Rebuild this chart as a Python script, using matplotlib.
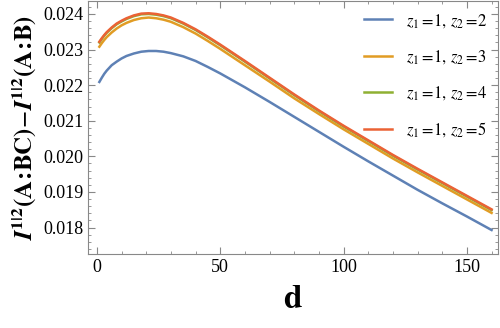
import numpy as np
import matplotlib
matplotlib.use("Agg")
import matplotlib.pyplot as plt
from matplotlib.ticker import MultipleLocator

plt.rcParams["mathtext.fontset"] = "stix"
plt.rcParams["font.family"] = ["Liberation Serif", "DejaVu Serif"]

d = [1, 2, 3, 4, 6, 8, 10, 12, 15, 18, 21, 24, 27, 30, 35, 40, 45, 50,
     60, 70, 80, 90, 100, 110, 120, 130, 140, 150, 160]

z2_2 = [0.02209, 0.02221, 0.02232, 0.02241, 0.02256, 0.02266, 0.02275, 0.02282, 0.02289, 0.02294,
        0.02296, 0.02296, 0.02294, 0.02290, 0.02281, 0.02268, 0.02251, 0.02233,
        0.02194, 0.02153, 0.02111, 0.02069, 0.02027, 0.01986, 0.01946, 0.01906, 0.01868, 0.01831, 0.01793]
z2_3 = [0.02308, 0.02318, 0.02327, 0.02335, 0.02348, 0.02359, 0.02368, 0.02375, 0.02383, 0.02388,
        0.02390, 0.02388, 0.02384, 0.02378, 0.02363, 0.02345, 0.02324, 0.02302,
        0.02256, 0.02210, 0.02163, 0.02119, 0.02076, 0.02035, 0.01994, 0.01955, 0.01917, 0.01879, 0.01841]
z2_4 = [0.02320, 0.02330, 0.02339, 0.02347, 0.02360, 0.02371, 0.02379, 0.02386, 0.02394, 0.02399,
        0.02400, 0.02398, 0.02394, 0.02388, 0.02373, 0.02355, 0.02334, 0.02312,
        0.02266, 0.02219, 0.02172, 0.02127, 0.02084, 0.02043, 0.02002, 0.01963, 0.01925, 0.01887, 0.01849]
z2_5 = [0.02322, 0.02332, 0.02341, 0.02349, 0.02362, 0.02373, 0.02381, 0.02388, 0.02396, 0.02401,
        0.02402, 0.02400, 0.02396, 0.02390, 0.02375, 0.02357, 0.02336, 0.02314,
        0.02268, 0.02221, 0.02174, 0.02129, 0.02086, 0.02045, 0.02004, 0.01965, 0.01927, 0.01889, 0.01851]

series = [z2_2, z2_3, z2_4, z2_5]
labels = [r"$z_1\,\!=\!1,\,z_2\,\!=\!2$", r"$z_1\,\!=\!1,\,z_2\,\!=\!3$",
          r"$z_1\,\!=\!1,\,z_2\,\!=\!4$", r"$z_1\,\!=\!1,\,z_2\,\!=\!5$"]
colors = ["#5E81B5", "#E19C24", "#8FB032", "#EB6235"]

fig = plt.figure(figsize=(5, 3.28), dpi=100)
ax = fig.add_axes([0.176, 0.226, 0.82, 0.771])

for y, lab, c in zip(series, labels, colors):
    ax.plot(d, y, color=c, lw=1.8, label=lab, solid_joinstyle="round")

ax.set_xlim(-3.6, 162.6)
ax.set_ylim(0.01726, 0.024365)

ax.xaxis.set_major_locator(MultipleLocator(50))
ax.xaxis.set_minor_locator(MultipleLocator(10))
ax.yaxis.set_major_locator(MultipleLocator(0.001))
ax.yaxis.set_minor_locator(MultipleLocator(0.0002))
ax.yaxis.set_major_formatter(plt.FuncFormatter(lambda v, p: f"{v:.3f}"))
ax.tick_params(which="both", direction="in", top=True, right=True, color="#888888")
ax.tick_params(which="major", length=5, labelsize=13)
ax.tick_params(which="minor", length=2.5)
for s in ax.spines.values():
    s.set_color("#888888")

ax.set_xlabel(r"$\mathbf{d}$", fontsize=24, labelpad=6)
ax.set_ylabel(r"$\mathbfit{I}^{\mathbf{1\vert 2}}\mathbf{(A\!:\!BC)}\!-\!\mathbfit{I}^{\mathbf{1\vert 2}}\mathbf{(A\!:\!B)}$",
              fontsize=18, labelpad=3)

ax.legend(loc="upper right", frameon=False, fontsize=12, handlelength=1.7,
          labelspacing=1.1, borderaxespad=0.25, handletextpad=0.8)

fig.savefig("out.png", dpi=100)
